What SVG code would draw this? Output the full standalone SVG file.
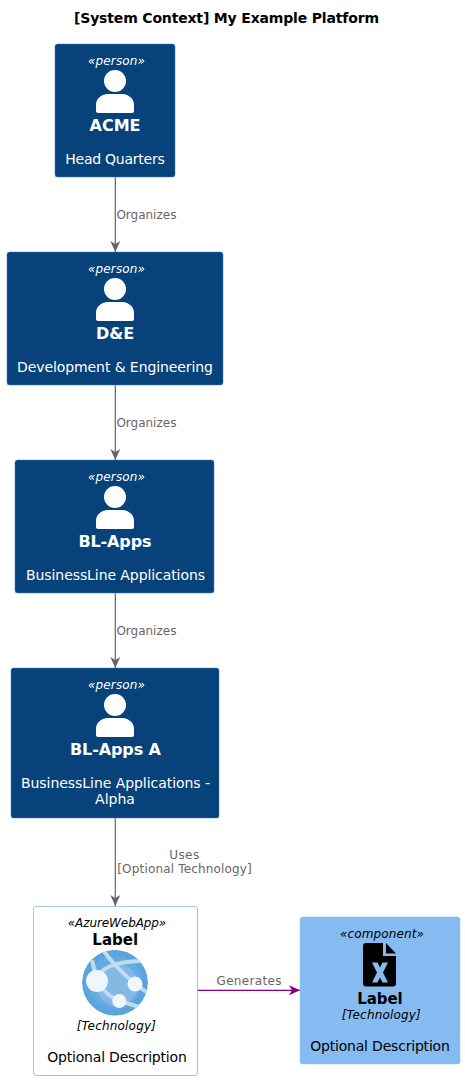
<svg xmlns="http://www.w3.org/2000/svg" width="465" height="1080" viewBox="0 0 465 1080">
<style>
text{font-family:"DejaVu Sans",sans-serif;text-anchor:middle}
.title{font-size:14px;font-weight:bold;fill:#000}
.p{fill:#08427B;stroke:#3C7FC0;stroke-width:.5}
.st{font-size:12px;font-style:italic}
.name{font-size:16px;font-weight:bold}
.small{font-size:15px}
.d{font-size:14px}
.w{fill:#fff}
.k{fill:#000}
.lbl{font-size:12px;fill:#666}
.c{fill:none;stroke:#666;stroke-width:1.2}
</style>
<defs>
<marker id="ag" markerUnits="userSpaceOnUse" markerWidth="12" markerHeight="14" refX="11" refY="6" orient="auto" viewBox="0 0 12 12"><path d="M0 1 L11 6 L0 11 L3 6 Z" fill="#666"/></marker>
<marker id="ap" markerUnits="userSpaceOnUse" markerWidth="12" markerHeight="14" refX="11" refY="6" orient="auto" viewBox="0 0 12 12"><path d="M0 1 L11 6 L0 11 L3 6 Z" fill="#800080"/></marker>
<clipPath id="globe"><circle cx="115" cy="982.700" r="33"/></clipPath>
<g id="person"><circle cx="0" cy="0" r="11" fill="#fff"/><path d="M-19 30 V24 C-19 17 -13 13 -7 13 H7 C13 13 19 17 19 24 V30 Q19 32 17 32 H-17 Q-19 32 -19 30 Z" fill="#fff"/></g>
</defs>
<text class="title" x="226.500" y="22.500" textLength="305">[System Context] My Example Platform</text>
<g id="connectors">
<path class="c" d="M115.300 177 V252" marker-end="url(#ag)"/>
<path class="c" d="M115.300 385 V460" marker-end="url(#ag)"/>
<path class="c" d="M115.300 593 V668" marker-end="url(#ag)"/>
<path class="c" d="M115.300 818 V906" marker-end="url(#ag)"/>
<path d="M197 990.300 H300" fill="none" stroke="#800080" stroke-width="1.200" marker-end="url(#ap)"/>
<text class="lbl" x="146.400" y="219" textLength="60">Organizes</text>
<text class="lbl" x="146.400" y="427" textLength="60">Organizes</text>
<text class="lbl" x="146.400" y="635" textLength="60">Organizes</text>
<text class="lbl" x="184.200" y="859" textLength="30">Uses</text>
<text class="lbl" x="184.500" y="873" textLength="134.500">[Optional Technology]</text>
<text class="lbl" x="249" y="985" textLength="65">Generates</text>
</g>
<g id="acme">
<rect class="p" x="55" y="44" width="120" height="133" rx="2.500"/>
<text class="st w" x="116.500" y="65" textLength="57">«person»</text>
<use href="#person" x="115" y="81"/>
<text class="name w" x="115" y="131">ACME</text>
<text class="d w" x="115" y="164" textLength="99.500">Head Quarters</text>
</g>
<g id="de">
<rect class="p" x="7" y="252" width="216" height="133" rx="2.500"/>
<text class="st w" x="116.500" y="273" textLength="57">«person»</text>
<use href="#person" x="115" y="289"/>
<text class="name w" x="115" y="339">D&amp;E</text>
<text class="d w" x="115" y="372" textLength="196">Development &amp; Engineering</text>
</g>
<g id="blapps">
<rect class="p" x="15" y="460" width="199" height="133" rx="2.500"/>
<text class="st w" x="116.500" y="481" textLength="57">«person»</text>
<use href="#person" x="115" y="497"/>
<text class="name w" x="115" y="547" textLength="73">BL-Apps</text>
<text class="d w" x="115.500" y="580" textLength="179">BusinessLine Applications</text>
</g>
<g id="blappsa">
<rect class="p" x="11" y="668" width="208" height="150" rx="2.500"/>
<text class="st w" x="116.500" y="689" textLength="57">«person»</text>
<use href="#person" x="115" y="705"/>
<text class="name w" x="115.500" y="755" textLength="91">BL-Apps A</text>
<text class="d w" x="115.500" y="788" textLength="189">BusinessLine Applications -</text>
<text class="d w" x="115" y="804">Alpha</text>
</g>
<g id="webapp">
<rect x="33.500" y="906.500" width="164" height="169" rx="2.500" fill="#fff" stroke="#A4C2E4" stroke-width="1"/>
<text class="st k" x="117" y="927" textLength="98.500">«AzureWebApp»</text>
<text class="name small k" x="115.200" y="945" textLength="45.700">Label</text>
<g clip-path="url(#globe)">
<circle cx="115" cy="982.700" r="33" fill="#5BA4DC"/>
<circle cx="115" cy="982.700" r="27" fill="#66ABDF"/>
<circle cx="117" cy="985" r="21" fill="#83B9E4"/>
<path d="M102 948 Q110 962 135 984 M97 981 Q100 960 150 961 M92 960 L97 981 M97 981 Q108 998 120 1001 Q135 1006 150 1010 M135 984 L152 996" fill="none" stroke="#BFDAF1" stroke-width="4"/>
</g>
<circle cx="97" cy="981" r="11" fill="#EFF6FC"/>
<circle cx="135" cy="984" r="7.500" fill="#EFF6FC"/>
<circle cx="119.300" cy="1001" r="7" fill="#EFF6FC"/>
<text class="st k" x="116.300" y="1030" textLength="79.300">[Technology]</text>
<text class="d k" x="117" y="1062" textLength="139.500">Optional Description</text>
</g>
<g id="component">
<rect x="300" y="917" width="160" height="147" rx="2.500" fill="#85BBF0" stroke="#9BC4EC" stroke-width=".5"/>
<text class="st k" x="382" y="938" textLength="84">«component»</text>
<path d="M366 943 H383 V956 H396 V983.500 Q396 986.500 393 986.500 H366 Q363 986.500 363 983.500 V946 Q363 943 366 943 Z" fill="#000"/>
<path d="M386 943 L396 953.500 H386 Z" fill="#000"/>
<path d="M372 962.500 H377.500 L380 967.500 L382.500 962.500 H388 L383 972.500 L388 982.500 H382.500 L380 977.500 L377.500 982.500 H372 L377 972.500 Z" fill="#85BBF0"/>
<text class="name small k" x="380" y="1004" textLength="45.500">Label</text>
<text class="st k" x="381.200" y="1019" textLength="79">[Technology]</text>
<text class="d k" x="380" y="1051" textLength="139.700">Optional Description</text>
</g>
</svg>
